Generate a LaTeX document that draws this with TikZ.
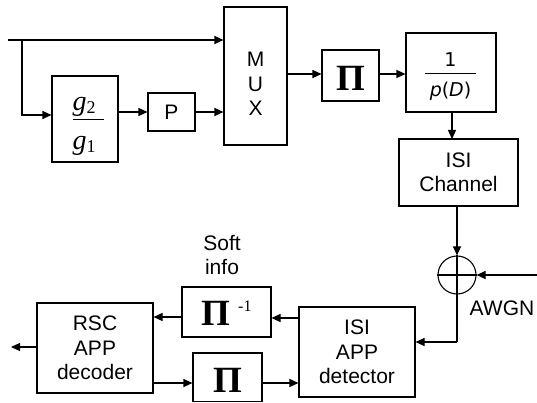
\documentclass[tikz,border=0pt]{standalone}
\usepackage{fontspec}
\usepackage{graphicx}
\setmainfont{Liberation Sans}
\newfontfamily\serifpi{Liberation Serif}
\newfontfamily\dvs{DejaVu Sans}
\usetikzlibrary{arrows.meta,calc}
\newcommand{\bigpi}{{\serifpi\bfseries\fontsize{37}{37}\selectfont Π}}
\newcommand{\gsub}[1]{{\serifpi\fontsize{28}{28}\selectfont\itshape g}\lower2.5pt\hbox{\serifpi\fontsize{18}{18}\selectfont #1}}
\begin{document}
\begin{tikzpicture}[x=1pt,y=-1pt,
  blk/.style={draw,line width=1.1pt,inner sep=0pt,align=center,font=\fontsize{21}{24.5}\selectfont},
  conn/.style={line width=1.1pt,-{Triangle[length=9pt,width=8pt]}},
  wire/.style={line width=1.1pt},
  lbl/.style={align=center,font=\fontsize{21}{24.5}\selectfont,inner sep=0pt}]
\useasboundingbox (0,0) rectangle (537,403);
% blocks
\node[blk,minimum width=66pt,minimum height=86pt] (g) at (85,119) {};
\node[lbl,anchor=base] (gfrac) at (88,150)
  {\vbox{\hbox to 31pt{\gsub{2}\hss}\kern2pt\hrule height 0.8pt\kern17.5pt\hbox to 31pt{\gsub{1}\hss}}};
\node[blk,minimum width=47pt,minimum height=38pt] (P) at (171.5,112) {P};
\node[blk,minimum width=63pt,minimum height=138pt] (mux) at (255.5,76) {};
\node[lbl] (muxl) at (255.5,84) {M\\U\\X};
\node[blk,minimum width=57pt,minimum height=51pt,text height=30pt,text depth=0pt] (pit) at (350.5,75.5) {\bigpi};
\node[blk,minimum width=90pt,minimum height=79pt] (pd) at (451,72.5) {};
\node[lbl,anchor=base] (pdfrac) at (450.5,97)
  {\dvs\fontsize{19}{19}\selectfont\vbox{\hbox to 51pt{\hss 1\hss}\kern6.5pt\hrule height 0.9pt\kern9pt\hbox to 51pt{\hss\textit{p}(\textit{D})\hss}}};
\node[blk,minimum width=119pt,minimum height=67pt] (isi) at (458.5,172.5) {ISI\\Channel};
\node[draw,circle,line width=1.1pt,minimum size=38pt,inner sep=0pt] (sum) at (457,275) {};
\draw[wire] (sum.north) -- (sum.south) (sum.west) -- (sum.east);
\node[blk,minimum width=116pt,minimum height=90pt] (det) at (357,352) {ISI\\APP\\detector};
\node[blk,minimum width=89pt,minimum height=50pt,text height=27.5pt,text depth=0pt] (pii) at (226.5,312)
  {\bigpi\hspace{8pt}\raisebox{14pt}[0pt][0pt]{\serifpi\fontsize{16}{16}\selectfont -1}};
\node[blk,minimum width=116pt,minimum height=90pt] (rsc) at (95,348) {RSC\\APP\\decoder};
\node[blk,minimum width=69pt,minimum height=48.5pt,text height=30pt,text depth=0pt] (pib) at (227.5,377.25) {\bigpi};
% labels
\node[lbl] (soft) at (222,255) {Soft\\info};
\node[lbl] (awgn) at (502,308) {AWGN};
% coordinates
\coordinate (in) at (8,40);
\coordinate (br) at (22,40);
\coordinate (noise) at (537,275);
\coordinate (out) at (11,347);
\coordinate (turn) at (457,342);
% connectors
\draw[conn] (in) -- (mux.west |- in);
\draw[conn] (br) |- ($(g.west)+(0,-4)$);
\draw[conn] (g.east |- P.center) -- (P.west);
\draw[conn] (P.east) -- (mux.west |- P.east);
\draw[conn] (mux.east |- 0,74) -- (pit.west |- 0,74);
\draw[conn] (pit.east |- 0,74) -- (pd.west |- 0,74);
\draw[conn] (452,112) -- (452,139);
\draw[conn] (sum.north |- isi.south) -- (sum.north);
\draw[conn] (noise) -- (sum.east);
\draw[wire] (sum.south) -- (turn);
\draw[conn] (turn) -- (det.east |- turn);
\draw[conn] (det.west |- 0,318) -- (pii.east |- 0,318);
\draw[conn] (pii.west |- 0,317) -- (rsc.east |- 0,317);
\draw[conn] (rsc.west |- out) -- (out);
\draw[conn] (rsc.east |- 0,383) -- (pib.west |- 0,383);
\draw[conn] (pib.east |- 0,383) -- (det.west |- 0,383);
\end{tikzpicture}
\end{document}
